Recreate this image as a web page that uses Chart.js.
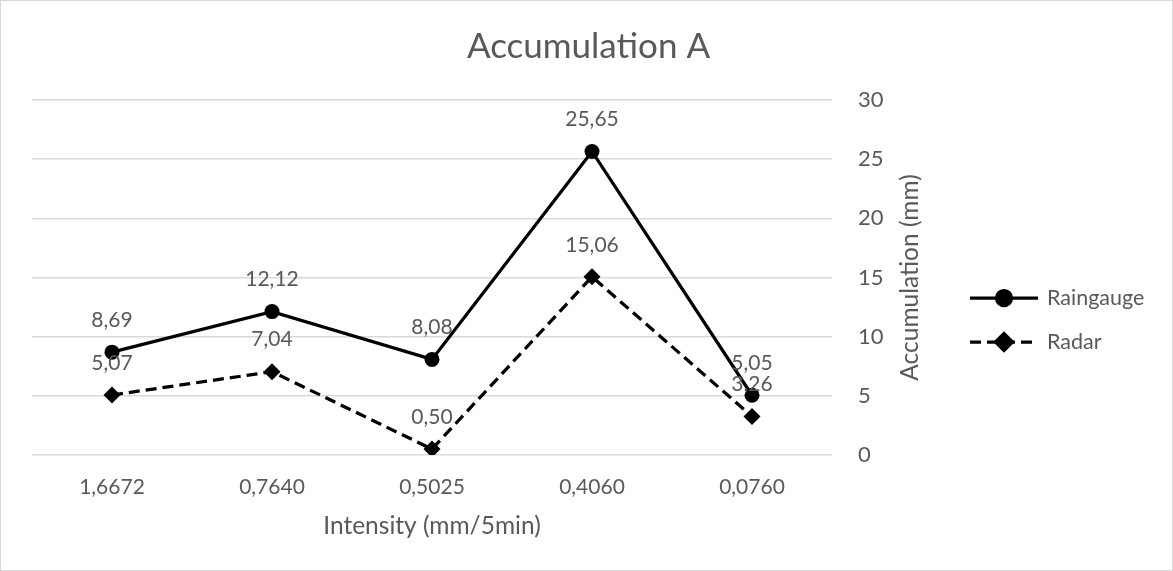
<!DOCTYPE html>
<html>
<head>
<meta charset="utf-8">
<title>Accumulation A</title>
<script src="https://cdn.jsdelivr.net/npm/chart.js@4"></script>
<style>
  html, body { margin: 0; padding: 0; background: #fff; }
  #box { width: 1173px; height: 571px; }
</style>
</head>
<body>
<div id="box"><canvas id="myChart"></canvas></div>
<script>
// intensity classes (x axis) and accumulations per series
const intensities = ["1,6672", "0,7640", "0,5025", "0,4060", "0,0760"];
const raingauge = [8.69, 12.12, 8.08, 25.65, 5.05];
const radar = [5.07, 7.04, 0.50, 15.06, 3.26];
const yTicks = [0, 5, 10, 15, 20, 25, 30];

const textColor = "#595959";
const gridColor = "#d9d9d9";
const fontFamily = "Lato, 'Open Sans', sans-serif";

const ctx = document.getElementById("myChart");

// numbers are printed with a decimal comma
const fmt = (v) => v.toFixed(2).replace(".", ",");

// labels above points, y axis title, legend and outer frame
const extras = {
  id: "extras",
  beforeDraw(chart) {
    const c = chart.ctx;
    c.save();
    c.fillStyle = "#fff";
    c.fillRect(0, 0, chart.width, chart.height);
    c.strokeStyle = gridColor;
    c.lineWidth = 1;
    c.strokeRect(0.5, 0.5, chart.width - 1, chart.height - 1);
    c.restore();
  },
  afterDraw(chart) {
    const c = chart.ctx;
    const area = chart.chartArea;
    c.save();
    c.fillStyle = textColor;
    c.font = "21px " + fontFamily;
    c.textAlign = "center";
    c.textBaseline = "middle";

    chart.data.datasets.forEach((ds, i) => {
      chart.getDatasetMeta(i).data.forEach((pt, j) => {
        c.fillText(fmt(ds.data[j]), pt.x, pt.y - 32);
      });
    });

    // rotated title of the right axis
    c.save();
    c.translate(910, (area.top + area.bottom) / 2);
    c.rotate(-Math.PI / 2);
    c.font = "24.5px " + fontFamily;
    c.fillText("Accumulation (mm)", 0, 0);
    c.restore();

    // legend: line with marker, then the name
    const rows = [298, 342];
    chart.data.datasets.forEach((ds, i) => {
      const y = rows[i];
      c.strokeStyle = ds.borderColor;
      c.lineWidth = ds.borderWidth;
      c.setLineDash(ds.borderDash || []);
      c.beginPath();
      c.moveTo(970, y);
      c.lineTo(1038, y);
      c.stroke();
      c.setLineDash([]);
      Chart.helpers.drawPoint(c, {
        pointStyle: ds.pointStyle,
        radius: ds.pointRadius,
        borderWidth: 1,
        rotation: 0
      }, 1004, y);
      c.fillStyle = "#000";
      c.fill();
      c.fillStyle = textColor;
      c.textAlign = "left";
      c.font = "21.5px " + fontFamily;
      c.fillText(ds.label, 1047, y);
    });
    c.restore();
  }
};

new Chart(ctx, {
  type: "line",
  data: {
    labels: intensities,
    datasets: [
      {
        label: "Raingauge",
        data: raingauge,
        borderColor: "#000",
        backgroundColor: "#000",
        borderWidth: 3.25,
        pointStyle: "circle",
        pointRadius: 7.5,
        pointBorderWidth: 0,
        tension: 0
      },
      {
        label: "Radar",
        data: radar,
        borderColor: "#000",
        backgroundColor: "#000",
        borderWidth: 3.25,
        borderDash: [11, 6],
        pointStyle: "rectRot",
        pointRadius: 8.5,
        pointBorderWidth: 0,
        tension: 0
      }
    ]
  },
  options: {
    responsive: true,
    maintainAspectRatio: false,
    animation: false,
    layout: {
      padding: { left: 32, right: 28, top: 0, bottom: 0 }
    },
    plugins: {
      legend: { display: false },
      tooltip: { enabled: false },
      title: {
        display: true,
        text: "Accumulation A",
        color: textColor,
        font: { family: fontFamily, size: 35, weight: "normal" },
        padding: { top: 26, bottom: 32 }
      }
    },
    scales: {
      x: {
        offset: true,
        grid: { display: false, drawTicks: false },
        border: { display: false },
        ticks: {
          color: textColor,
          font: { family: fontFamily, size: 21 },
          padding: 20
        },
        title: {
          display: true,
          text: "Intensity (mm/5min)",
          color: textColor,
          font: { family: fontFamily, size: 24.5 },
          padding: { top: 0, bottom: 30 }
        },
        afterFit(scale) {
          scale.height = 116;
        }
      },
      y: {
        position: "right",
        min: 0,
        max: 30,
        afterBuildTicks(scale) {
          scale.ticks = yTicks.map((v) => ({ value: v }));
        },
        grid: { color: gridColor, lineWidth: 1.5, drawTicks: false },
        border: { display: false },
        ticks: {
          color: textColor,
          font: { family: fontFamily, size: 22 },
          padding: 26
        },
        afterFit(scale) {
          scale.width = 313;
        }
      }
    }
  },
  plugins: [extras]
});
</script>
</body>
</html>
